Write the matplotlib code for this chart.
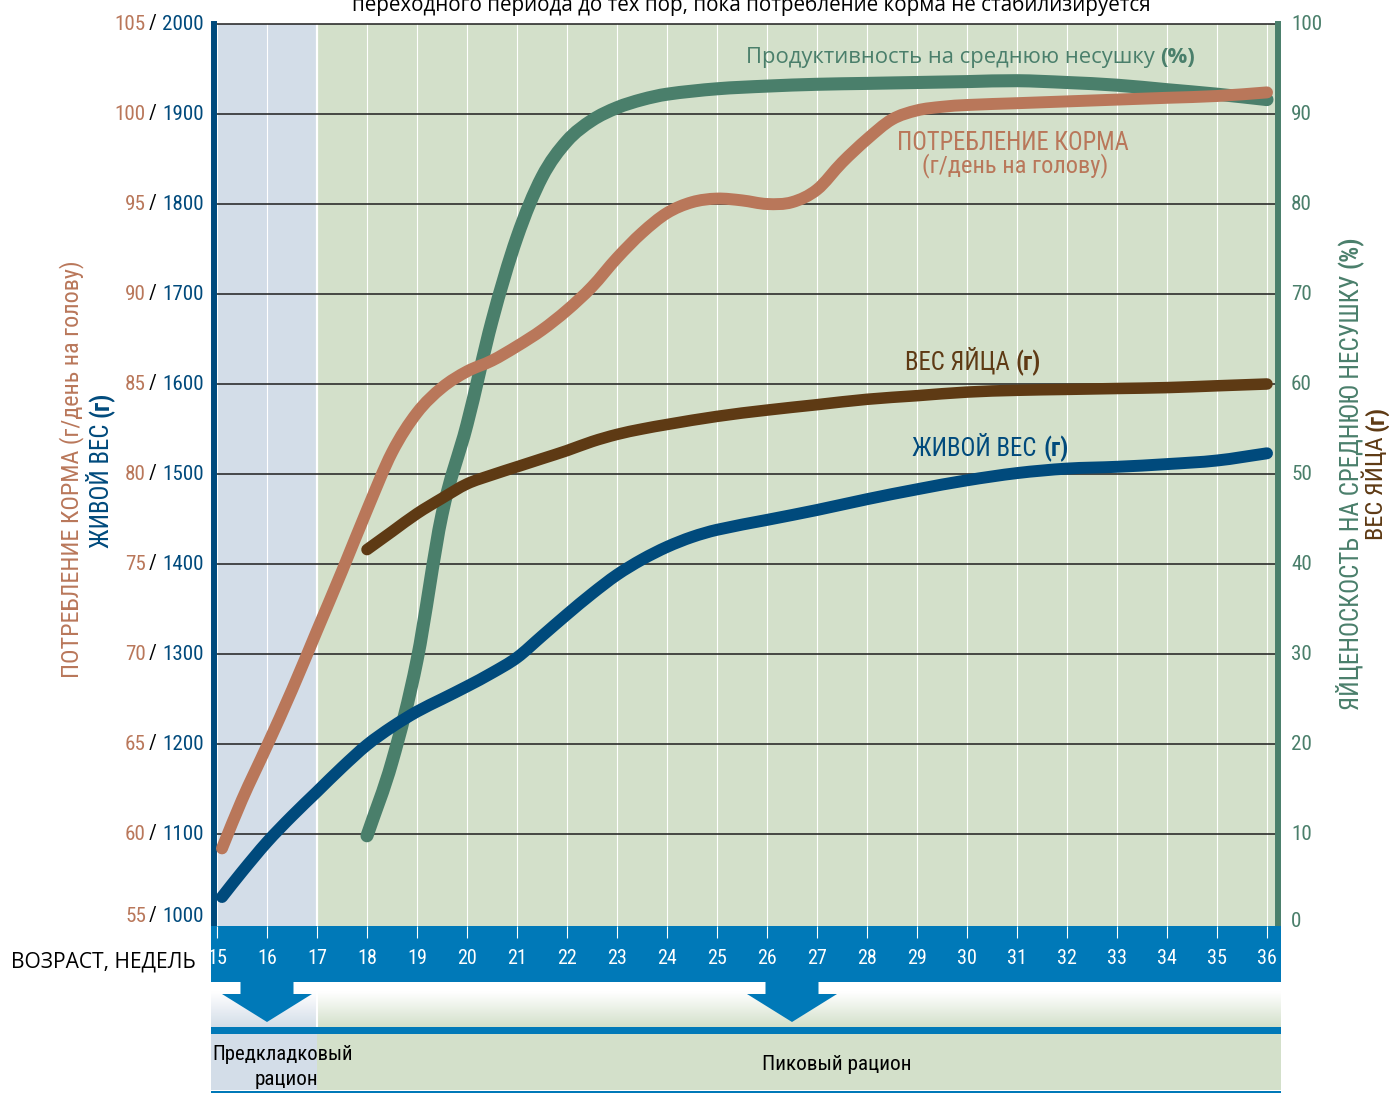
import numpy as np
import matplotlib
matplotlib.use("Agg")
import matplotlib.pyplot as plt
import matplotlib.transforms as mtransforms
from matplotlib import font_manager
from matplotlib.patches import Rectangle, Polygon, PathPatch
from matplotlib.path import Path


# ---------------- data ----------------
week_ticks = list(range(15, 37))
feed_ticks = [55, 60, 65, 70, 75, 80, 85, 90, 95, 100, 105]
weight_ticks = [1000, 1100, 1200, 1300, 1400, 1500, 1600, 1700, 1800, 1900, 2000]
pct_ticks = [0, 10, 20, 30, 40, 50, 60, 70, 80, 90, 100]

# feed intake, g/day per bird
feed_weeks = [15.1, 15.5, 16, 16.5, 17, 17.5, 18, 18.5, 19, 19.5, 20, 20.5, 21, 21.5, 22, 22.5,
              23, 23.5, 24, 24.5, 25, 25.5, 26, 26.5, 27, 27.5, 28, 28.5, 29, 29.5, 30, 31,
              32, 33, 34, 35, 36]
feed_g = [59.2, 61.9, 64.9, 68.0, 71.3, 74.6, 78.0, 81.2, 83.4, 84.8, 85.7, 86.3, 87.1, 88.0,
          89.1, 90.4, 92.0, 93.4, 94.5, 95.1, 95.3, 95.2, 95.0, 95.1, 95.8, 97.3, 98.6, 99.7,
          100.2, 100.4, 100.5, 100.6, 100.7, 100.8, 100.9, 101.0, 101.2]

# body weight, g
bw_weeks = [15.1, 15.5, 16, 16.5, 17, 17.5, 18, 18.5, 19, 19.5, 20, 20.5, 21, 21.5, 22, 22.5,
            23, 23.5, 24, 24.5, 25, 26, 27, 28, 29, 30, 31, 32, 33, 34, 35, 36]
bw_g = [1030, 1058, 1091, 1120, 1147, 1174, 1199, 1219, 1236, 1250, 1264, 1279, 1296, 1320,
        1344, 1367, 1388, 1405, 1419, 1430, 1438, 1449, 1460, 1472, 1483, 1493, 1501, 1506,
        1508, 1511, 1515, 1523]

# egg weight, g
egg_weeks = [18, 18.5, 19, 19.5, 20, 20.5, 21, 21.5, 22, 22.5, 23, 23.5, 24, 25, 26, 27, 28,
             29, 30, 31, 32, 33, 34, 35, 36]
egg_g = [41.6, 43.6, 45.6, 47.3, 48.9, 49.9, 50.8, 51.7, 52.6, 53.6, 54.4, 55.0, 55.5, 56.4,
         57.1, 57.7, 58.3, 58.7, 59.1, 59.3, 59.4, 59.5, 59.6, 59.8, 60.0]

# hen-day production, %
prod_weeks = [18, 18.5, 19, 19.5, 20, 20.5, 21, 21.5, 22, 22.5, 23, 23.5, 24, 25, 26, 27, 28,
              29, 30, 31, 32, 33, 34, 35, 36]
prod_pct = [9.8, 18.0, 29.3, 45.5, 55.5, 67.0, 76.3, 83.0, 87.0, 89.3, 90.7, 91.6, 92.2, 92.8,
            93.1, 93.3, 93.4, 93.5, 93.6, 93.7, 93.5, 93.2, 92.7, 92.2, 91.6]

diet_change_week = 17
diet_names = ["Предкладковый\nрацион", "Пиковый рацион"]
arrow_weeks = [16, 26.5]

# ---------------- styling ----------------
W, H, DPI = 1389, 1095, 100
ORANGE = "#b9775a"
BLUE = "#004a7c"
BROWN = "#5e3a14"
GREEN = "#4a7f6b"
BAND = "#0079b8"
BG_PRE = "#d3dde8"
BG_PEAK = "#d3e0ca"

names = {f.name for f in font_manager.fontManager.ttflist}
narrow = {"family": "DejaVu Sans"}
for fam in ["Liberation Sans Narrow", "Roboto Condensed", "Open Sans Condensed"]:
    if fam in names:
        narrow = {"family": fam}
        break
else:
    if any(f.name == "DejaVu Sans" and f.stretch == "condensed"
           for f in font_manager.fontManager.ttflist):
        narrow = {"family": "DejaVu Sans", "stretch": "condensed"}
regular = {"family": "Open Sans" if "Open Sans" in names else "DejaVu Sans"}

fig = plt.figure(figsize=(W / DPI, H / DPI), dpi=DPI)
fig.patch.set_facecolor("white")
renderer = fig.canvas.get_renderer()


def fx(x):
    return x / W


def fy(y):
    return 1 - y / H


def width_at10(s, font, weight="normal"):
    t = fig.text(0, 0, s, fontsize=10, fontweight=weight, **font)
    w = t.get_window_extent(renderer).width
    t.remove()
    return w


def fit_text(x, y, s, width, font, **kw):
    size = 10 * width / width_at10(s, font, kw.get("fontweight", "normal"))
    return fig.text(fx(x), fy(y), s, fontsize=size, **font, **kw)


def fit_pair(cx, cy, a, b, length, color, font, rotation=0):
    # normal text a followed by bold text b, total length fitted, centred on (cx, cy)
    wa = width_at10(a, font)
    wb = width_at10(b, font, "bold")
    gap = 0.25 * 10 * DPI / 72
    k = length / (wa + wb + gap)
    size = 10 * k
    kw = dict(fontsize=size, color=color, rotation=rotation, rotation_mode="anchor",
              ha="left", va="baseline", **font)
    if rotation == 0:
        x0 = cx - length / 2
        fig.text(fx(x0), fy(cy), a, **kw)
        fig.text(fx(x0 + (wa + gap) * k), fy(cy), b, fontweight="bold", **kw)
    else:
        xb = cx + 0.36 * size * DPI / 72
        y0 = cy + length / 2
        fig.text(fx(xb), fy(y0), a, **kw)
        fig.text(fx(xb), fy(y0 - (wa + gap) * k), b, fontweight="bold", **kw)


def smooth_path(xs, ys):
    # cubic Hermite curve through the read points (drawing only)
    x = np.asarray(xs, float)
    y = np.asarray(ys, float)
    n = len(x)
    m = np.empty(n)
    m[0] = (y[1] - y[0]) / (x[1] - x[0])
    m[-1] = (y[-1] - y[-2]) / (x[-1] - x[-2])
    m[1:-1] = (y[2:] - y[:-2]) / (x[2:] - x[:-2])
    verts = [(x[0], y[0])]
    codes = [Path.MOVETO]
    for i in range(n - 1):
        h = x[i + 1] - x[i]
        verts += [(x[i] + h / 3, y[i] + m[i] * h / 3),
                  (x[i + 1] - h / 3, y[i + 1] - m[i + 1] * h / 3),
                  (x[i + 1], y[i + 1])]
        codes += [Path.CURVE4] * 3
    return Path(verts, codes)


# ---------------- main plot ----------------
PLOT_L, PLOT_R, PLOT_T, PLOT_B = 214, 1278, 24, 926
X15 = 217
PPW = 50.0
PX_PER_G = 0.9

ax = fig.add_axes([fx(PLOT_L), fy(PLOT_B), (PLOT_R - PLOT_L) / W, (PLOT_B - PLOT_T) / H])
xlo = week_ticks[0] - (X15 - PLOT_L) / PPW
xhi = week_ticks[0] + (PLOT_R - X15) / PPW
g_lo = weight_ticks[0] - (PLOT_B - 924) / PX_PER_G
g_hi = weight_ticks[-1]

axf = ax.twinx()
axp = ax.twinx()
for a in (axf, axp):
    a.axis("off")


def map_lim(lo_ticks):
    t0, t1 = lo_ticks[0], lo_ticks[-1]
    s = (t1 - t0) / (weight_ticks[-1] - weight_ticks[0])
    return t0 + (g_lo - weight_ticks[0]) * s, t0 + (g_hi - weight_ticks[0]) * s


ax.axvspan(xlo, diet_change_week, color=BG_PRE, lw=0, zorder=0)
ax.axvspan(diet_change_week, xhi, color=BG_PEAK, lw=0, zorder=0)
for w in week_ticks:
    lw = 1.6 if w == diet_change_week else 0.8
    ax.axvline(w, color="white", lw=lw, zorder=1)
for g in weight_ticks[1:]:
    ax.axhline(g, color="#1e1e1e", lw=1.1, zorder=2, clip_on=False)

ax.set_xlim(xlo, xhi)
ax.set_ylim(g_lo, g_hi)
axf.set_ylim(*map_lim(feed_ticks))
axp.set_ylim(*map_lim(pct_ticks))
for a in (axf, axp):
    a.set_xlim(xlo, xhi)

series = [
    (prod_weeks, prod_pct, GREEN, 9.4, axp, 3),
    (feed_weeks, feed_g, ORANGE, 8.6, axf, 4),
    (egg_weeks, egg_g, BROWN, 8.3, axp, 5),
    (bw_weeks, bw_g, BLUE, 8.6, ax, 6),
]
for xs, ys, col, lw, owner, z in series:
    ax.add_patch(PathPatch(smooth_path(xs, ys), fill=False, edgecolor=col, lw=lw,
                           capstyle="round", joinstyle="round", transform=owner.transData,
                           zorder=z))

ax.set_xticks([])
ax.set_yticks([])
ax.spines["bottom"].set_visible(False)
ax.spines["top"].set_visible(False)
ax.spines["left"].set_color(BLUE)
ax.spines["left"].set_linewidth(4.3)
ax.spines["right"].set_color(GREEN)
ax.spines["right"].set_linewidth(4.3)

# left composite tick labels
tick_size = 10 * 41 / width_at10("2000", narrow)
ytrans = ax.get_yaxis_transform()
for i, (f, g) in enumerate(zip(feed_ticks, weight_ticks)):
    dy = 8 if i == 0 else 0
    for dx, s, c in [(-10, str(g), BLUE), (-57, "/", "black"), (-68, str(f), ORANGE)]:
        tr = mtransforms.offset_copy(ytrans, fig=fig, x=dx, y=dy, units="dots")
        ax.text(0, g, s, transform=tr, ha="right", va="center", color=c,
                fontsize=tick_size, clip_on=False, **narrow)

# right tick labels
ptrans = axp.get_yaxis_transform()
for i, p in enumerate(pct_ticks):
    dy = 3 if i == 0 else 0
    tr = mtransforms.offset_copy(ptrans, fig=fig, x=13, y=dy, units="dots")
    axp.text(1, p, str(p), transform=tr, ha="left", va="center", color=GREEN,
             fontsize=tick_size, clip_on=False, **narrow)

# ---------------- bottom bands ----------------
BX_L, BX_R, BX_T, BX_B = 211, 1281, 926, 1093
bx = fig.add_axes([fx(BX_L), fy(BX_B), (BX_R - BX_L) / W, (BX_B - BX_T) / H])
bxl = week_ticks[0] - (X15 - BX_L) / PPW
bxr = week_ticks[0] + (BX_R - X15) / PPW
bx.axis("off")

bx.add_patch(Rectangle((bxl, 926), bxr - bxl, 56, color=BAND, lw=0))
rows = np.linspace(982, 1027, 80)
t = np.clip((rows - 992) / 35, 0, 1)[:, None, None]
for lo, hi, col in [(bxl, diet_change_week, BG_PRE), (diet_change_week, bxr, BG_PEAK)]:
    rgb = np.array(matplotlib.colors.to_rgb(col))[None, None, :]
    img = (1 - t) * np.ones((1, 1, 3)) + t * rgb
    bx.imshow(img, extent=(lo, hi, 1027, 982), aspect="auto", interpolation="bilinear",
              zorder=1)
    bx.add_patch(Rectangle((lo, 1034), hi - lo, 56, color=col, lw=0, zorder=1))
bx.vlines(diet_change_week, 982, 1027, color="white", lw=1.5, zorder=2)
bx.add_patch(Rectangle((bxl, 1027), bxr - bxl, 7, color=BAND, lw=0, zorder=2))
bx.add_patch(Rectangle((bxl, 1090.5), bxr - bxl, 2.5, color=BAND, lw=0, zorder=2))

for aw in arrow_weeks:
    pts = [(aw - 0.53, 981), (aw + 0.53, 981), (aw + 0.53, 994), (aw + 0.9, 994),
           (aw, 1022), (aw - 0.9, 994), (aw - 0.53, 994)]
    bx.add_patch(Polygon(pts, closed=True, color=BAND, lw=0, zorder=3))

bx.vlines(week_ticks, 926, 938, color="white", lw=0.8, zorder=3)
xt_size = tick_size * 20 / 21
for w in week_ticks:
    bx.text(w, 958, str(w), ha="center", va="center", color="white", fontsize=xt_size,
            zorder=4, **narrow)

bx.set_xlim(bxl, bxr)
bx.set_ylim(BX_B, BX_T)

# ---------------- texts ----------------
fit_text(751, 11, "переходного периода до тех пор, пока потребление корма не стабилизируется",
         798, regular, ha="center", va="baseline", color="black")
fit_text(11, 967, "ВОЗРАСТ, НЕДЕЛЬ", 185, regular, ha="left", va="baseline", color="black")

pre_lines = diet_names[0].split("\n")
fit_text(283, 1060, pre_lines[0], 140, narrow, ha="center", va="baseline", color="black")
fit_text(286, 1085, pre_lines[1], 64, narrow, ha="center", va="baseline", color="black")
fit_text(837, 1070, diet_names[1], 150, narrow, ha="center", va="baseline", color="black")

fit_pair(970, 63, "Продуктивность на среднюю несушку", "(%)", 448, GREEN, regular)
fit_text(1013, 150, "ПОТРЕБЛЕНИЕ КОРМА", 232, narrow, ha="center", va="baseline",
         color=ORANGE)
fit_text(1015, 172, "(г/день на голову)", 186, narrow, ha="center", va="baseline",
         color=ORANGE)
fit_pair(973, 370, "ВЕС ЯЙЦА", "(г)", 136, BROWN, narrow)
fit_pair(991, 456, "ЖИВОЙ ВЕС", "(г)", 157, BLUE, narrow)

# rotated axis titles
t_or = fit_text(0, 0, "ПОТРЕБЛЕНИЕ КОРМА (г/день на голову)", 418, narrow, color=ORANGE,
                rotation=90, rotation_mode="anchor", ha="center", va="center")
t_or.set_position((fx(72), fy(469)))
fit_pair(100, 470, "ЖИВОЙ ВЕС", "(г)", 157, BLUE, narrow, rotation=90)
fit_pair(1349, 473, "ЯЙЦЕНОСКОСТЬ НА СРЕДНЮЮ НЕСУШКУ", "(%)", 474, GREEN, narrow,
         rotation=90)
fit_pair(1374, 473, "ВЕС ЯЙЦА", "(г)", 134, BROWN, narrow, rotation=90)

fig.savefig("out.png", dpi=DPI)
